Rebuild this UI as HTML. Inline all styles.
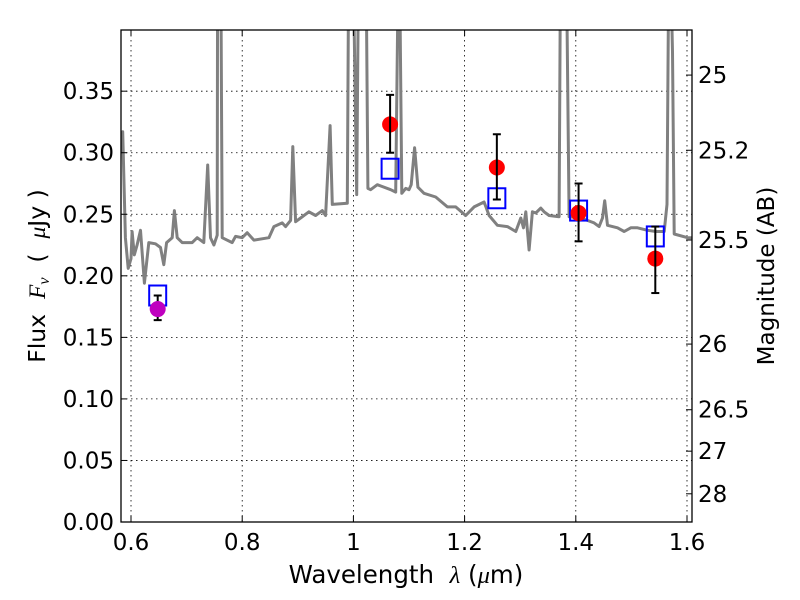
<!DOCTYPE html>
<html><head><meta charset="utf-8"><style>
body{margin:0;background:#fff;}
svg{display:block;font-family:"DejaVu Sans","Liberation Sans",sans-serif;}
</style></head><body>
<svg id="chart" width="800" height="600" viewBox="0 0 800 600" xmlns="http://www.w3.org/2000/svg" xml:space="preserve">
<rect width="800" height="600" fill="#fff"/>
<defs><clipPath id="plotclip"><rect x="121" y="30" width="571" height="492"/></clipPath></defs>
<g id="grid"></g>
<g id="spec" clip-path="url(#plotclip)"></g>
<g id="marks"></g>
<rect x="121" y="30" width="571" height="492" fill="none" stroke="#000" stroke-width="1.3"/>
<g id="axes"></g>
<text x="406" y="583" font-size="24.5" text-anchor="middle" style="white-space:pre">Wavelength  <tspan font-family="Liberation Serif,serif" font-style="italic">λ</tspan> (<tspan font-family="Liberation Serif,serif" font-style="italic">μ</tspan>m)</text>
<text transform="translate(45,276) rotate(-90)" font-size="23.5" text-anchor="middle" style="white-space:pre">Flux  <tspan font-family="Liberation Serif,serif" font-style="italic">F<tspan font-size="16" dy="4">ν</tspan></tspan><tspan dy="-4">  (  </tspan><tspan font-family="Liberation Serif,serif" font-style="italic">μ</tspan>Jy )</text>
<text transform="translate(774,276) rotate(-90)" font-size="23" text-anchor="middle">Magnitude (AB)</text>
</svg>
<script>
const specLam = [0.582,0.585,0.590,0.595,0.600,0.602,0.606,0.611,0.617,0.624,0.632,0.644,0.653,0.659,0.664,0.674,0.678,0.683,0.692,0.710,0.719,0.731,0.738,0.743,0.749,0.755,0.756,0.761,0.764,0.782,0.788,0.800,0.809,0.821,0.848,0.857,0.872,0.878,0.887,0.891,0.896,0.905,0.920,0.932,0.944,0.950,0.958,0.962,0.989,0.992,0.998,1.006,1.010,1.016,1.022,1.026,1.031,1.043,1.067,1.076,1.082,1.087,1.094,1.100,1.104,1.110,1.116,1.127,1.148,1.169,1.184,1.202,1.217,1.235,1.244,1.259,1.277,1.292,1.301,1.306,1.310,1.316,1.322,1.328,1.337,1.343,1.352,1.370,1.373,1.382,1.388,1.409,1.433,1.442,1.448,1.452,1.457,1.475,1.487,1.499,1.511,1.529,1.544,1.559,1.564,1.568,1.574,1.577,1.601,1.610];
const specFlux = [0.300,0.317,0.231,0.206,0.214,0.236,0.217,0.225,0.237,0.194,0.227,0.226,0.223,0.209,0.227,0.231,0.253,0.231,0.227,0.227,0.231,0.227,0.290,0.231,0.225,0.233,0.5,0.5,0.231,0.227,0.232,0.231,0.235,0.229,0.231,0.240,0.243,0.240,0.245,0.305,0.244,0.247,0.252,0.249,0.253,0.249,0.322,0.258,0.259,0.5,0.5,0.266,0.5,0.5,0.5,0.271,0.270,0.274,0.270,0.268,0.5,0.267,0.271,0.270,0.274,0.304,0.272,0.267,0.264,0.256,0.256,0.249,0.256,0.260,0.249,0.241,0.240,0.236,0.247,0.239,0.252,0.221,0.252,0.251,0.255,0.252,0.249,0.248,0.5,0.5,0.248,0.247,0.243,0.240,0.247,0.261,0.241,0.239,0.236,0.239,0.239,0.237,0.236,0.236,0.258,0.5,0.382,0.234,0.231,0.231];
const obsLam = [1.066,1.258,1.405,1.543];
const obsFlux = [0.323,0.288,0.251,0.214];
const obsLo = [0.300,0.262,0.228,0.186];
const obsHi = [0.347,0.315,0.275,0.240];
const modelFlux = [0.287,0.263,0.253,0.232];
const optLam = [0.648];
const optFlux = [0.173];
const optLo = [0.164];
const optHi = [0.184];
const optModel = [0.184];
const xTicks = [0.6,0.8,1.0,1.2,1.4,1.6];
const xTickLabels = ["0.6","0.8","1","1.2","1.4","1.6"];
const yTicks = [0,0.05,0.10,0.15,0.20,0.25,0.30,0.35];
const yTickLabels = ["0.00","0.05","0.10","0.15","0.20","0.25","0.30","0.35"];
const magTicks = [25,25.2,25.5,26,26.5,27,28];
const magTickLabels = ["25","25.2","25.5","26","26.5","27","28"];

const NS="http://www.w3.org/2000/svg";
const X0=121,X1=692,Y0=522,Y1=30;
const xmin=0.582,xmax=1.609,ymin=0,ymax=0.3997;
const sx=v=>X0+(v-xmin)/(xmax-xmin)*(X1-X0);
const sy=v=>Y0-(v-ymin)/(ymax-ymin)*(Y0-Y1);
function mk(tag,attrs,parent){const e=document.createElementNS(NS,tag);for(const k in attrs)e.setAttribute(k,attrs[k]);parent.appendChild(e);return e;}
const grid=document.getElementById('grid'),axes=document.getElementById('axes'),spec=document.getElementById('spec'),marks=document.getElementById('marks');

xTicks.forEach((t,i)=>{
  const x=sx(t);
  const g=mk('line',{x1:x,x2:x,y1:Y1,y2:Y0,stroke:'#000','stroke-width':0.8,'stroke-dasharray':'1.5,3.5'},grid);
  
  
  mk('line',{x1:x,x2:x,y1:Y0,y2:Y0-6,stroke:'#000'},axes);
  mk('line',{x1:x,x2:x,y1:Y1,y2:Y1+6,stroke:'#000'},axes);
  const l=mk('text',{x:x,y:Y0+28,'font-size':23,'text-anchor':'middle'},axes);
  l.textContent=xTickLabels[i];
  
  
});
yTicks.forEach((t,i)=>{
  const y=sy(t);
  const g=mk('line',{x1:X0,x2:X1,y1:y,y2:y,stroke:'#000','stroke-width':0.8,'stroke-dasharray':'1.5,3.5'},grid);
  
  
  mk('line',{x1:X0,x2:X0+6,y1:y,y2:y,stroke:'#000'},axes);
  const l=mk('text',{x:X0-7,y:y+8,'font-size':23,'text-anchor':'end'},axes);
  l.textContent=yTickLabels[i];
  
  
});
magTicks.forEach((m,i)=>{
  const y=sy(Math.pow(10,(23.9-m)/2.5));
  mk('line',{x1:X1,x2:X1-6,y1:y,y2:y,stroke:'#000'},axes);
  const l=mk('text',{x:X1+6,y:y+8,'font-size':23,'text-anchor':'start'},axes);
  l.textContent=magTickLabels[i];
  
  
});

const pts=specLam.map((l,i)=>sx(l).toFixed(1)+','+sy(specFlux[i]).toFixed(1)).join(' ');
const pl=mk('polyline',{points:pts,fill:'none',stroke:'#808080','stroke-width':3,'stroke-linejoin':'round'},spec);



function errbar(lam,lo,hi){
  const x=sx(lam);
  const e=mk('g',{stroke:'#000','stroke-width':2},marks);
  
  
  mk('line',{x1:x,x2:x,y1:sy(lo),y2:sy(hi)},e);
  mk('line',{x1:x-4,x2:x+4,y1:sy(lo),y2:sy(lo)},e);
  mk('line',{x1:x-4,x2:x+4,y1:sy(hi),y2:sy(hi)},e);
}
function box(lam,f){
  const b=mk('rect',{x:sx(lam)-8.5,y:sy(f)-10,width:17,height:20,fill:'none',stroke:'#0000ff','stroke-width':2},marks);
  
  
}
function dot(lam,f,color){
  const c=mk('circle',{cx:sx(lam),cy:sy(f),r:8,fill:color},marks);
  
  
}
optLam.forEach((l,i)=>{box(l,optModel[i]);errbar(l,optLo[i],optHi[i]);dot(l,optFlux[i],'#bf00bf');});
obsLam.forEach((l,i)=>{box(l,modelFlux[i]);dot(l,obsFlux[i],'#ff0000');errbar(l,obsLo[i],obsHi[i]);});
</script>
</body></html>
